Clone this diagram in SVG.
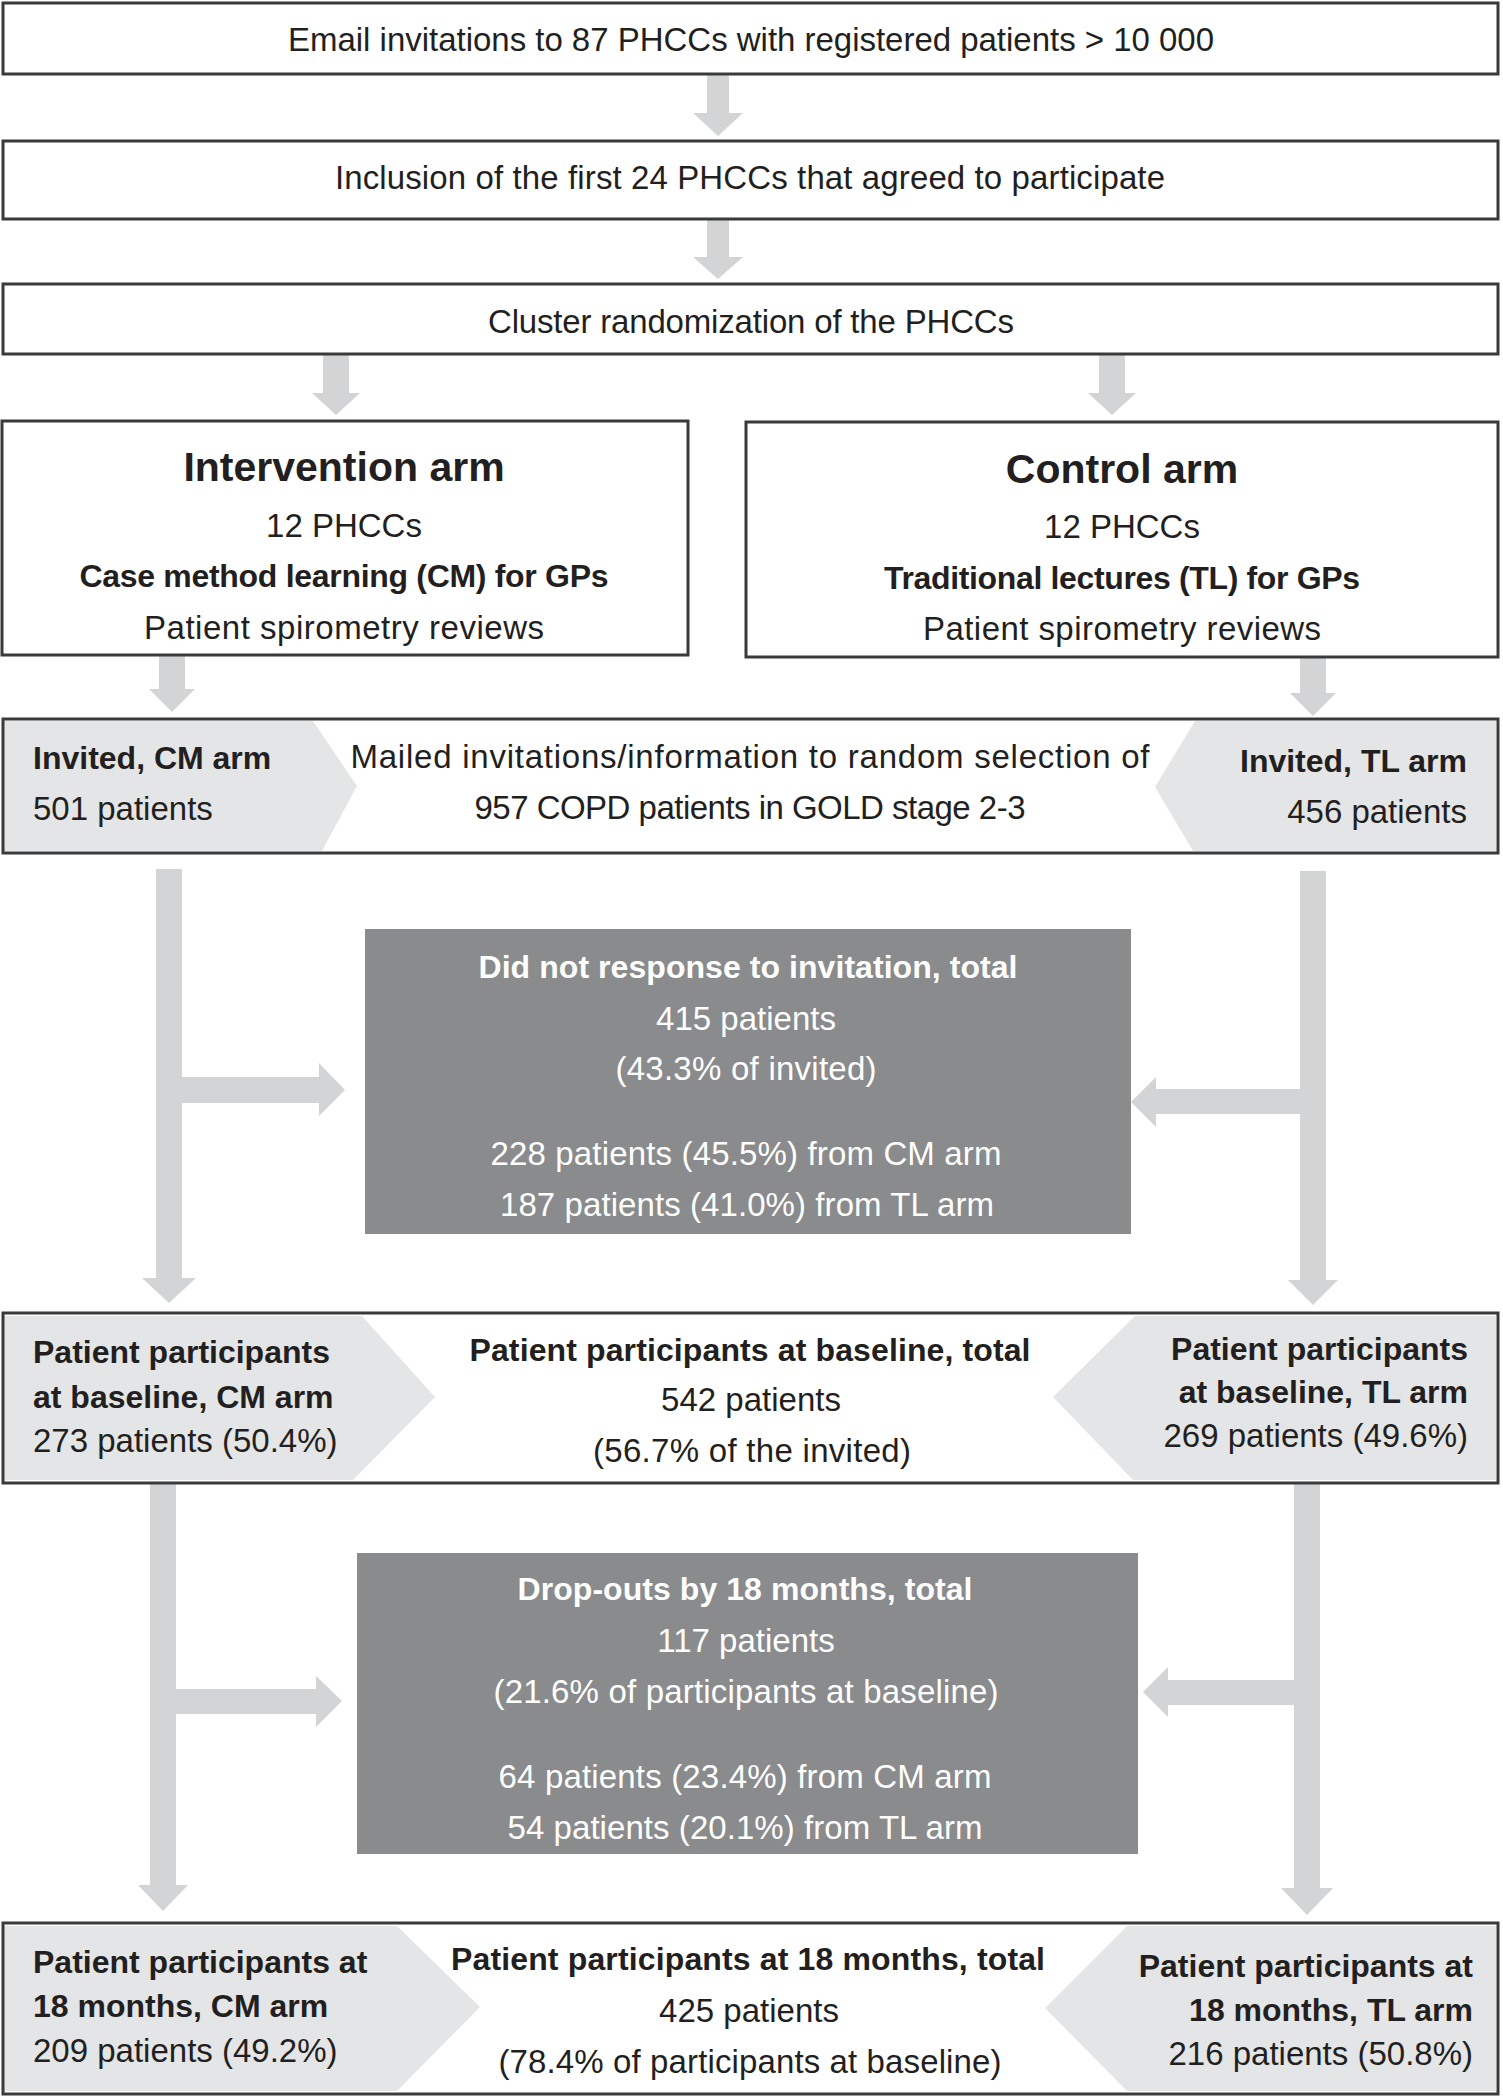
<svg xmlns="http://www.w3.org/2000/svg" width="1503" height="2097" viewBox="0 0 1503 2097">
<style>
text{font-family:"Liberation Sans",Arial,sans-serif;fill:#231f20;font-size:33px}
.b{font-weight:bold;font-size:32px}
.h{font-weight:bold;font-size:41px}
.c{text-anchor:middle}
.r{text-anchor:end}
.w{fill:#ffffff}
.box{fill:#ffffff;stroke:#3a3a3a;stroke-width:3}
.frame{fill:none;stroke:#3a3a3a;stroke-width:3}
.pent{fill:#e4e5e6}
.dark{fill:#8a8b8d}
.arr{fill:#d3d4d6}
</style>
<g id="connectors">
<polygon class="arr" points="707,75 729,75 729,113 743,113 718,136 693,113 707,113"/>
<polygon class="arr" points="707,220 729,220 729,257 743,257 718,279 693,257 707,257"/>
<polygon class="arr" points="323,355 349,355 349,393 360,393 336,415 312,393 323,393"/>
<polygon class="arr" points="1099,355 1125,355 1125,393 1136,393 1112,415 1088,393 1099,393"/>
<polygon class="arr" points="159,656 185,656 185,689 195,689 172,712 149,689 159,689"/>
<polygon class="arr" points="1300,658 1326,658 1326,693 1336,693 1313,716 1290,693 1300,693"/>
<polygon class="arr" points="156,869 182,869 182,1077 319,1077 319,1063 345,1090 319,1116 319,1103 182,1103 182,1278 196,1278 169,1303 142,1278 156,1278"/>
<polygon class="arr" points="1300,871 1326,871 1326,1280 1338,1280 1313,1305 1288,1280 1300,1280 1300,1114 1156,1114 1156,1127 1131,1102 1156,1077 1156,1089 1300,1089"/>
<polygon class="arr" points="150,1484 176,1484 176,1689 316,1689 316,1676 342,1701 316,1727 316,1714 176,1714 176,1885 188,1885 163,1911 138,1885 150,1885"/>
<polygon class="arr" points="1294,1484 1320,1484 1320,1888 1333,1888 1307,1915 1281,1888 1294,1888 1294,1705 1168,1705 1168,1717 1143,1692 1168,1667 1168,1680 1294,1680"/>
</g>
<g id="n1">
<rect class="box" x="3" y="3" width="1495" height="71"/>
<text class="c" x="751" y="51" textLength="926">Email invitations to 87 PHCCs with registered patients &gt; 10 000</text>
</g>
<g id="n2">
<rect class="box" x="3" y="141" width="1495" height="78"/>
<text class="c" x="750" y="189" textLength="830">Inclusion of the first 24 PHCCs that agreed to participate</text>
</g>
<g id="n3">
<rect class="box" x="3" y="284" width="1495" height="70"/>
<text class="c" x="751" y="333" textLength="526">Cluster randomization of the PHCCs</text>
</g>
<g id="n4">
<rect class="box" x="2" y="421" width="686" height="234"/>
<text class="h c" x="344" y="481">Intervention arm</text>
<text class="c" x="344" y="537">12 PHCCs</text>
<text class="b c" x="344" y="587" textLength="529">Case method learning (CM) for GPs</text>
<text class="c" x="344" y="639" textLength="400">Patient spirometry reviews</text>
</g>
<g id="n5">
<rect class="box" x="746" y="422" width="752" height="235"/>
<text class="h c" x="1122" y="483">Control arm</text>
<text class="c" x="1122" y="538">12 PHCCs</text>
<text class="b c" x="1122" y="589" textLength="476">Traditional lectures (TL) for GPs</text>
<text class="c" x="1122" y="640" textLength="398">Patient spirometry reviews</text>
</g>
<g id="n6">
<rect x="3" y="719" width="1495" height="134" fill="#ffffff"/>
<polygon class="pent" points="4,721 313,721 357,786 322,851 4,851"/>
<polygon class="pent" points="1496,721 1195,721 1155,787 1193,851 1496,851"/>
<rect class="frame" x="3" y="719" width="1495" height="134"/>
<text class="b" x="33" y="769">Invited, CM arm</text>
<text x="33" y="820">501 patients</text>
<text class="c" x="750" y="768" textLength="799">Mailed invitations/information to random selection of</text>
<text class="c" x="750" y="819" textLength="551">957 COPD patients in GOLD stage 2-3</text>
<text class="b r" x="1467" y="772">Invited, TL arm</text>
<text class="r" x="1467" y="823">456 patients</text>
</g>
<g id="n7">
<rect class="dark" x="365" y="929" width="766" height="305"/>
<text class="b c w" x="748" y="978" textLength="539">Did not response to invitation, total</text>
<text class="c w" x="746" y="1030">415 patients</text>
<text class="c w" x="746" y="1080" textLength="261">(43.3% of invited)</text>
<text class="c w" x="746" y="1165" textLength="511">228 patients (45.5%) from CM arm</text>
<text class="c w" x="747" y="1216" textLength="494">187 patients (41.0%) from TL arm</text>
</g>
<g id="n8">
<rect x="3" y="1313" width="1495" height="170" fill="#ffffff"/>
<polygon class="pent" points="4,1316 362,1316 435,1397 353,1480 4,1480"/>
<polygon class="pent" points="1496,1316 1135,1316 1053,1397 1133,1480 1496,1480"/>
<rect class="frame" x="3" y="1313" width="1495" height="170"/>
<text class="b" x="33" y="1363">Patient participants</text>
<text class="b" x="33" y="1408">at baseline, CM arm</text>
<text x="33" y="1452">273 patients (50.4%)</text>
<text class="b c" x="750" y="1361" textLength="561">Patient participants at baseline, total</text>
<text class="c" x="751" y="1411">542 patients</text>
<text class="c" x="752" y="1462" textLength="318">(56.7% of the invited)</text>
<text class="b r" x="1468" y="1360">Patient participants</text>
<text class="b r" x="1468" y="1403">at baseline, TL arm</text>
<text class="r" x="1468" y="1447">269 patients (49.6%)</text>
</g>
<g id="n9">
<rect class="dark" x="357" y="1553" width="781" height="301"/>
<text class="b c w" x="745" y="1600" textLength="455">Drop-outs by 18 months, total</text>
<text class="c w" x="746" y="1652">117 patients</text>
<text class="c w" x="746" y="1703" textLength="505">(21.6% of participants at baseline)</text>
<text class="c w" x="745" y="1788" textLength="493">64 patients (23.4%) from CM arm</text>
<text class="c w" x="745" y="1839" textLength="475">54 patients (20.1%) from TL arm</text>
</g>
<g id="n10">
<rect x="3" y="1923" width="1495" height="171" fill="#ffffff"/>
<polygon class="pent" points="4,1926 397,1926 480,2007 397,2091 4,2091"/>
<polygon class="pent" points="1496,1926 1127,1926 1045,2008 1127,2091 1496,2091"/>
<rect class="frame" x="3" y="1923" width="1495" height="171"/>
<text class="b" x="33" y="1973">Patient participants at</text>
<text class="b" x="33" y="2017">18 months, CM arm</text>
<text x="33" y="2062">209 patients (49.2%)</text>
<text class="b c" x="748" y="1970" textLength="594">Patient participants at 18 months, total</text>
<text class="c" x="749" y="2022">425 patients</text>
<text class="c" x="750" y="2073" textLength="503">(78.4% of participants at baseline)</text>
<text class="b r" x="1473" y="1977">Patient participants at</text>
<text class="b r" x="1473" y="2021">18 months, TL arm</text>
<text class="r" x="1473" y="2065">216 patients (50.8%)</text>
</g>
</svg>
